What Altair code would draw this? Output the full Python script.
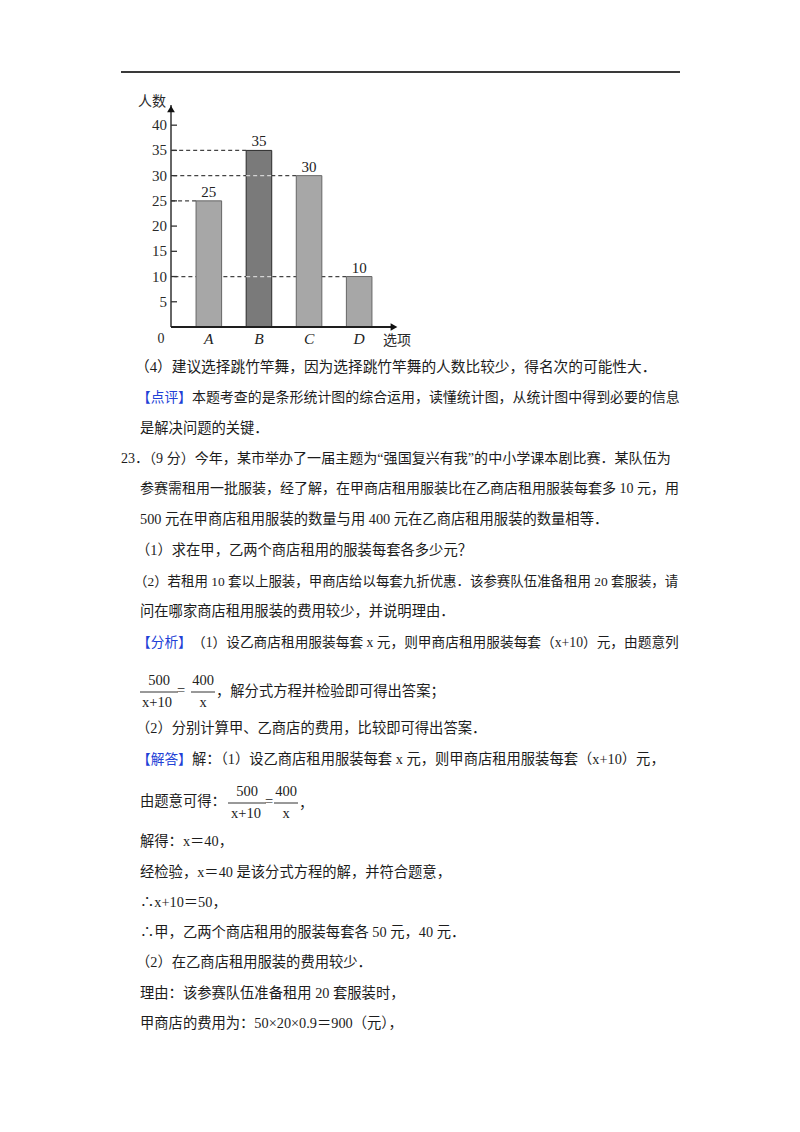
import altair as alt
import pandas as pd

# ---------------- chart data ----------------
categories = ["A", "B", "C", "D"]
counts = [25, 35, 30, 10]
y_tick_values = [5, 10, 15, 20, 25, 30, 35, 40]
guide_values = [35, 30, 25, 10]
guide_targets = ["B", "C", "A", "D"]
y_title = "人数"
x_title = "选项"
origin_label = "0"

# ---------------- page text ----------------
body_texts = [
    "（4）建议选择跳竹竿舞，因为选择跳竹竿舞的人数比较少，得名次的可能性大．",
    "本题考查的是条形统计图的综合运用，读懂统计图，从统计图中得到必要的信息",
    "是解决问题的关键．",
    "23．（9 分）今年，某市举办了一届主题为“强国复兴有我”的中小学课本剧比赛．某队伍为",
    "参赛需租用一批服装，经了解，在甲商店租用服装比在乙商店租用服装每套多 10 元，用",
    "500 元在甲商店租用服装的数量与用 400 元在乙商店租用服装的数量相等．",
    "（1）求在甲，乙两个商店租用的服装每套各多少元？",
    "（2）若租用 10 套以上服装，甲商店给以每套九折优惠．该参赛队伍准备租用 20 套服装，请",
    "问在哪家商店租用服装的费用较少，并说明理由．",
    "（1）设乙商店租用服装每套 x 元，则甲商店租用服装每套（x+10）元，由题意列",
    "，解分式方程并检验即可得出答案；",
    "（2）分别计算甲、乙商店的费用，比较即可得出答案．",
    "解：（1）设乙商店租用服装每套 x 元，则甲商店租用服装每套（x+10）元，",
    "由题意可得：",
    "，",
    "解得：x＝40，",
    "经检验，x＝40 是该分式方程的解，并符合题意，",
    "∴x+10＝50，",
    "∴甲，乙两个商店租用的服装每套各 50 元，40 元．",
    "（2）在乙商店租用服装的费用较少．",
    "理由：该参赛队伍准备租用 20 套服装时，",
    "甲商店的费用为：50×20×0.9＝900（元），",
]
marker_texts = ["【点评】", "【分析】", "【解答】"]
fraction_texts = ["500", "x+10", "=", "400", "x", "500", "x+10", "=", "400", "x"]
tick_label_texts = [str(v) for v in y_tick_values]

# ---------------- layout (page pixel coordinates) ----------------
OX, OY = 171, 105          # page position of the plot origin (top-left of plot area)
W, H = 226, 222            # plot area of the bar chart
FONT = "Liberation Serif, Noto Sans CJK SC"
FS = 14.3

body_pos = [
    (135, 368), (192, 398), (140, 429), (121, 459), (140, 489), (140, 520),
    (136, 551), (134, 582), (140, 612), (192, 643), (216, 692), (136, 729),
    (192, 760), (140, 802), (299, 804), (140, 842), (140, 873), (140, 903),
    (140, 933), (136, 963), (140, 994), (140, 1024),
]
# per-line font size (justified full lines are fitted to the right margin)
body_fs = [
    14.7, 13.95, FS, 14.05, 14.0, FS,
    FS, 13.45, FS, 13.7, FS, FS,
    FS, FS, FS, FS, FS, FS,
    FS, FS, FS, FS,
]
marker_pos = [(137, 398), (137, 643), (137, 760)]
fraction_pos = [
    (159, 681), (157, 703), (181, 691), (203, 681), (203, 703),
    (247, 792), (246, 814), (269, 802), (286, 792), (286, 814),
]
fraction_bars = [(140, 178, 692), (191, 215, 692), (228, 266, 803), (274, 298, 803)]


def cx(p):
    return p - OX


def cy(p):
    return p - OY


one = pd.DataFrame({"k": [0]})

# ---------------- bar chart ----------------
bars_df = pd.DataFrame({"cat": categories, "n": counts})
guides_df = pd.DataFrame({"target": guide_targets, "v": guide_values})
ticks_df = pd.DataFrame({"v": y_tick_values, "label": tick_label_texts})
# guide lines that run across the dark bar B (their target lies beyond it)
cross_df = pd.DataFrame({
    "cat": ["B" for t, v in zip(guide_targets, guide_values)
            if categories.index(t) > categories.index("B") and v < counts[categories.index("B")]],
    "v": [v for t, v in zip(guide_targets, guide_values)
          if categories.index(t) > categories.index("B") and v < counts[categories.index("B")]],
})

xscale = alt.Scale(domain=categories, paddingInner=0.49, paddingOuter=0.5)
yscale = alt.Scale(domain=[0, 44], nice=False, zero=True)

guides = alt.Chart(guides_df).mark_rule(
    strokeDash=[4, 3], color="#444444", strokeWidth=1.3
).encode(
    x=alt.X("target:N", bandPosition=0, scale=xscale, axis=None),
    x2=alt.value(0),
    y=alt.Y("v:Q", scale=yscale, axis=None),
)

bars = alt.Chart(bars_df).mark_bar(strokeWidth=1).encode(
    x=alt.X("cat:N", scale=xscale, axis=None, sort=categories),
    y=alt.Y("n:Q", scale=yscale, axis=None),
    color=alt.Color("cat:N", scale=alt.Scale(domain=categories,
                    range=["#a7a7a7", "#7a7a7a", "#a7a7a7", "#a7a7a7"]), legend=None),
    stroke=alt.Stroke("cat:N", scale=alt.Scale(domain=categories,
                      range=["#666666", "#2a2a2a", "#666666", "#666666"]), legend=None),
)

cross = alt.Chart(cross_df).mark_rule(
    strokeDash=[4, 3], color="#d4d4d4", strokeWidth=1.2
).encode(
    x=alt.X("cat:N", bandPosition=0, scale=xscale, axis=None),
    x2=alt.X2("cat:N", bandPosition=1),
    y=alt.Y("v:Q", scale=yscale, axis=None),
)

value_labels = alt.Chart(bars_df).mark_text(
    baseline="bottom", dy=-1, font="Liberation Serif", fontSize=15, color="#222222"
).encode(
    x=alt.X("cat:N", scale=xscale, axis=None),
    y=alt.Y("n:Q", scale=yscale, axis=None),
    text=alt.Text("n:Q"),
)

# category labels under the x axis (italic serif)
cat_labels = alt.Chart(bars_df).mark_text(
    baseline="middle", font="Liberation Serif", fontStyle="italic", fontSize=15.5, color="#222222"
).encode(
    x=alt.X("cat:N", scale=xscale, axis=None),
    y=alt.value(H + 12),
    text="cat:N",
)

# axes: domain lines, inward ticks and labels
y_domain = alt.Chart(one).mark_rule(color="#333333", strokeWidth=1.5).encode(
    x=alt.value(0), y=alt.value(0), y2=alt.value(H)
)
x_domain = alt.Chart(one).mark_rule(color="#1e1e1e", strokeWidth=2).encode(
    x=alt.value(0), x2=alt.value(W - 4), y=alt.value(H)
)
y_ticks = alt.Chart(ticks_df).mark_rule(color="#333333", strokeWidth=1.3).encode(
    x=alt.value(0), x2=alt.value(6),
    y=alt.Y("v:Q", scale=yscale, axis=None),
)
y_labels = alt.Chart(ticks_df).mark_text(
    align="right", baseline="middle", font="Liberation Serif", fontSize=15, color="#2a2a2a"
).encode(
    x=alt.value(-4),
    y=alt.Y("v:Q", scale=yscale, axis=None),
    text="label:N",
)

arrow_up = alt.Chart(one).mark_point(
    shape="triangle-up", filled=True, size=60, color="#111111", opacity=1
).encode(x=alt.value(0), y=alt.value(4))

arrow_right = alt.Chart(one).mark_point(
    shape="triangle-right", filled=True, size=60, color="#111111", opacity=1
).encode(x=alt.value(W - 3), y=alt.value(H))

axis_text_df = pd.DataFrame({
    "text": [y_title, x_title, origin_label],
    "x": [cx(152), cx(397), cx(161)],
    "y": [cy(102), cy(341), cy(339)],
})
axis_texts = alt.Chart(axis_text_df).mark_text(
    align="center", baseline="middle", font=FONT, fontSize=14, color="#2a2a2a"
).encode(
    x=alt.X("x:Q", scale=None), y=alt.Y("y:Q", scale=None), text="text:N"
)

# ---------------- page decoration and text ----------------
top_rule = alt.Chart(one).mark_rule(color="#3a3a3a", strokeWidth=2).encode(
    x=alt.value(cx(121)), x2=alt.value(cx(680)), y=alt.value(cy(72))
)

body_df = pd.DataFrame({
    "text": body_texts,
    "x": [cx(p[0]) for p in body_pos],
    "y": [cy(p[1]) for p in body_pos],
    "fs": body_fs,
})
body = alt.Chart(body_df).mark_text(
    align="left", baseline="middle", font=FONT, color="#1c1c1c"
).encode(
    x=alt.X("x:Q", scale=None), y=alt.Y("y:Q", scale=None),
    size=alt.Size("fs:Q", scale=None, legend=None), text="text:N",
)

marker_df = pd.DataFrame({
    "text": marker_texts,
    "x": [cx(p[0]) for p in marker_pos],
    "y": [cy(p[1]) for p in marker_pos],
})
markers = alt.Chart(marker_df).mark_text(
    align="left", baseline="middle", font="Noto Sans CJK SC", fontSize=13.7, color="#2140d6"
).encode(x=alt.X("x:Q", scale=None), y=alt.Y("y:Q", scale=None), text="text:N")

frac_df = pd.DataFrame({
    "text": fraction_texts,
    "x": [cx(p[0]) for p in fraction_pos],
    "y": [cy(p[1]) for p in fraction_pos],
})
fractions = alt.Chart(frac_df).mark_text(
    align="center", baseline="middle", font="Liberation Serif", fontSize=14.5, color="#222222"
).encode(x=alt.X("x:Q", scale=None), y=alt.Y("y:Q", scale=None), text="text:N")

fbar_df = pd.DataFrame({
    "x": [cx(b[0]) for b in fraction_bars],
    "x2": [cx(b[1]) for b in fraction_bars],
    "y": [cy(b[2]) for b in fraction_bars],
})
fraction_lines = alt.Chart(fbar_df).mark_rule(color="#333333", strokeWidth=1).encode(
    x=alt.X("x:Q", scale=None), x2="x2:Q", y=alt.Y("y:Q", scale=None)
)


def build(layers):
    return alt.layer(*layers).properties(
        width=W,
        height=H,
        padding={"left": OX - 8, "top": OY - 8, "right": 784 - (OX - 8) - W,
                 "bottom": 1108 - (OY - 8) - H},
        autosize=alt.AutoSizeParams(type="none"),
        background="white",
    ).configure_view(stroke=None)


base_layers = [guides, bars]
rest_layers = [value_labels, cat_labels, y_domain, x_domain, y_ticks, y_labels,
               arrow_up, arrow_right, axis_texts,
               top_rule, body, markers, fractions, fraction_lines]

try:
    chart = build(base_layers + [cross] + rest_layers)
    chart.to_dict()
except Exception:
    chart = build(base_layers + rest_layers)

chart.save("out.html", embed_options={"renderer": "svg", "actions": False})
